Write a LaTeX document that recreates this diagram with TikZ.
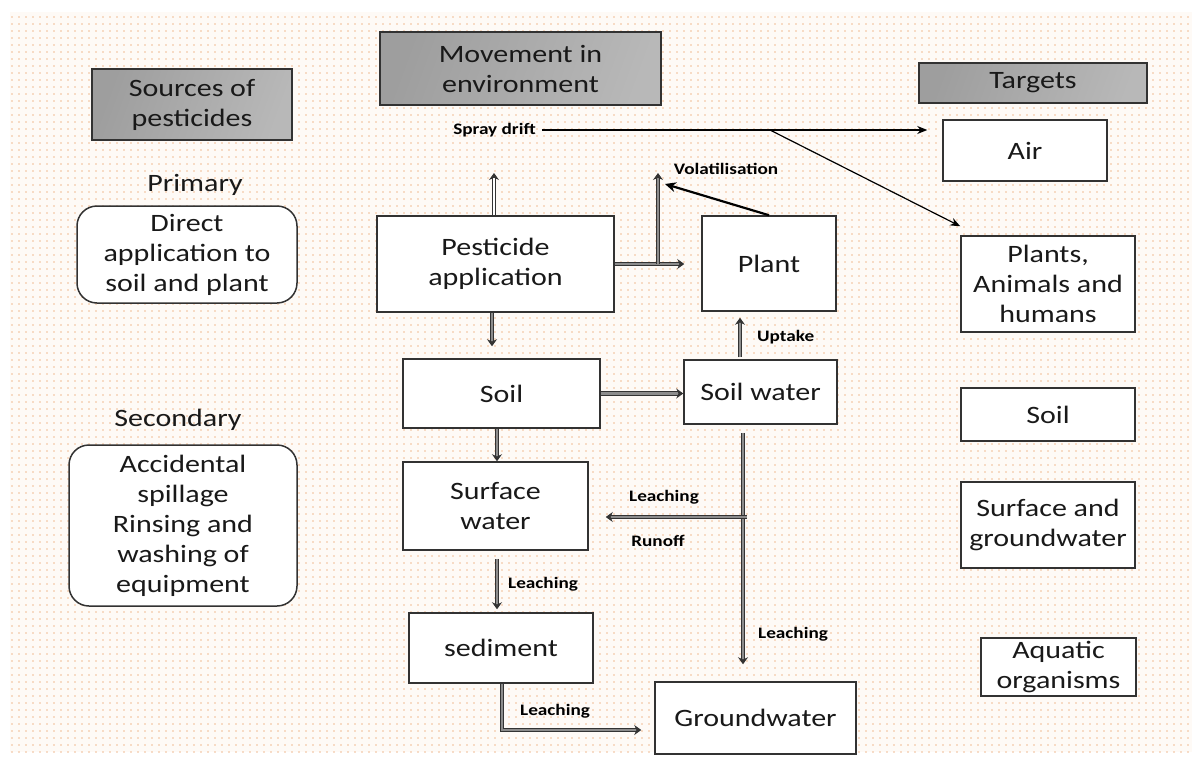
\documentclass[tikz,border=0pt]{standalone}
\usepackage{fontspec}
\setmainfont{Carlito}[FakeStretch=1.2]
\usetikzlibrary{arrows.meta,patterns.meta,calc}
\definecolor{dotc}{RGB}{240,188,148}
\definecolor{bgc}{RGB}{254,250,246}
\definecolor{edge}{RGB}{50,50,50}
\begin{document}
\begin{tikzpicture}[x=1pt,y=-1pt,
  box/.style={draw=edge, line width=1.5pt, fill=white, align=center, inner sep=0pt,
    text=black!90, font=\fontsize{25}{30}\selectfont},
  hdr/.style={box, shading=axis, left color=black!38, right color=black!28, shading angle=70},
  rbox/.style={box, rounded corners=20pt},
  txt/.style={inner sep=0pt, text=black!90, font=\fontsize{25}{30}\selectfont},
  lbl/.style={inner sep=0pt, font=\bfseries\fontsize{16}{19}\selectfont},
  dbl/.style={draw=black!80, line width=1pt, double=black!45, double distance=2.6pt,
    -{Stealth[length=7pt,width=10pt]}},
  hol/.style={dbl, double=white},
  thinar/.style={draw=black, line width=1.2pt, -{Stealth[length=10pt,width=8pt]}},
  thickar/.style={draw=black, line width=2.2pt, -{Stealth[length=11pt,width=10pt]}}
]
\useasboundingbox (0,0) rectangle (1200,758);
\fill[white] (0,0) rectangle (1200,758);
\fill[bgc] (10,12) rectangle (1192,752);
\fill[pattern={Dots[distance=6.5pt, radius=0.9pt]}, pattern color=dotc] (10,12) rectangle (1192,752);

% headers
\node[hdr, minimum width=200pt, minimum height=71pt] (src) at (192,104.5) {Sources of\\pesticides};
\node[hdr, minimum width=281pt, minimum height=73pt] (mov) at (520.5,68.5) {Movement in\\environment};
\node[hdr, minimum width=228pt, minimum height=40pt] (tgt) at (1033,83) {Targets};

% sources
\node[txt] (prim) at (195,185) {Primary};
\node[rbox, minimum width=220pt, minimum height=97pt] (direct) at (187,254.5) {Direct\\application to\\soil and plant};
\node[txt] (sec) at (178,420) {Secondary};
\node[rbox, minimum width=228pt, minimum height=161pt] (acc) at (183,525.5) {Accidental\\spillage\\Rinsing and\\washing of\\equipment};

% movement
\node[box, minimum width=237pt, minimum height=96pt] (pest) at (495.5,264) {Pesticide\\application};
\node[box, minimum width=134pt, minimum height=95pt] (plant) at (769,263.5) {Plant};
\node[box, minimum width=197pt, minimum height=69pt] (soil) at (501.5,393.5) {Soil};
\node[box, minimum width=153pt, minimum height=64pt] (sw) at (760.5,392) {Soil water};
\node[box, minimum width=185pt, minimum height=88pt] (surf) at (495.5,506) {Surface\\water};
\node[box, minimum width=184pt, minimum height=70pt] (sed) at (501,648) {sediment};
\node[box, minimum width=201pt, minimum height=72pt] (gw) at (755.5,718) {Groundwater};

% targets
\node[box, minimum width=164pt, minimum height=61pt] (air) at (1025,150.5) {Air};
\node[box, minimum width=174pt, minimum height=96pt] (pah) at (1048,284) {Plants,\\Animals and\\humans};
\node[box, minimum width=174pt, minimum height=53pt] (tsoil) at (1048,414.5) {Soil};
\node[box, minimum width=174pt, minimum height=86pt] (tsg) at (1048,525) {Surface and\\groundwater};
\node[box, minimum width=155pt, minimum height=58pt] (aq) at (1058.5,667) {Aquatic\\organisms};

% labels
\node[lbl] (spray) at (494.5,130) {Spray drift};
\node[lbl] (vol) at (726,169) {Volatilisation};
\node[lbl, anchor=west] (upt) at (757,337) {Uptake};
\node[lbl] (leach1) at (664,497) {Leaching};
\node[lbl] (runoff) at (658,541) {Runoff};
\node[lbl, anchor=west] (leach2) at (758,634) {Leaching};
\node[lbl, anchor=west] (leach3) at (508,584) {Leaching};
\node[lbl, anchor=west] (leach4) at (520,711) {Leaching};

% helper coordinates
\coordinate (pu) at (494,173);
\coordinate (pd) at (492,0);
\coordinate (vj) at (658,264);
\coordinate (vt) at (658,173);
\coordinate (va) at (665,184);
\coordinate (sj) at (770,130);
\coordinate (ux) at (740,0);
\coordinate (sx) at (497,0);
\coordinate (gx) at (743,0);
\coordinate (rj) at (747,517);
\coordinate (sgx) at (502,0);
\coordinate (gwy) at (0,730);

% connectors
\draw[hol] (pu |- pest.north) -- (pu);
\draw[dbl, shorten >=12pt] (pd |- pest.south) -- (pd |- soil.north);
\draw[dbl, shorten >=17pt] (pest.east) -- (pest.east -| plant.west);
\draw[dbl] (vj) -- (vt);
\draw[thickar] (plant.north) -- (va);
\draw[thinar, shorten >=15pt] ([xshift=6pt]spray.east) -- (spray.east -| air.west);
\draw[thinar] (sj) -- ([yshift=9pt]pah.north west);
\draw[dbl, shorten <=2pt, shorten >=6pt] (ux |- sw.north) -- (ux |- plant.south);
\draw[dbl] (soil.east) -- (soil.east -| sw.west);
\draw[dbl] (sx |- soil.south) -- (sx |- surf.north);
\draw[dbl, shorten <=8pt, shorten >=17pt] (gx |- sw.south) -- (gx |- gw.north);
\draw[dbl, shorten >=17pt] (rj) -- (rj -| surf.east);
\draw[dbl, shorten <=8pt, shorten >=3pt] (sx |- surf.south) -- (sx |- sed.north);
\draw[dbl, shorten >=13pt] (sgx |- sed.south) |- (gw.west |- gwy);
\end{tikzpicture}
\end{document}
